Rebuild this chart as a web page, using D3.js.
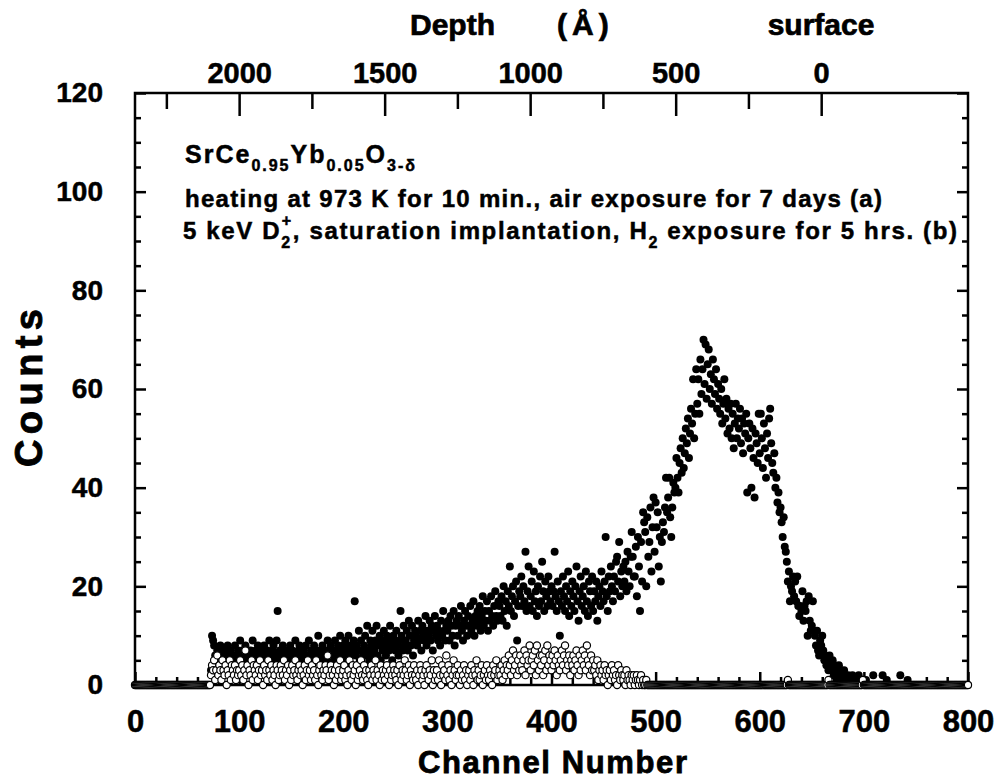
<!DOCTYPE html>
<html>
<head>
<meta charset="utf-8">
<script src="https://cdn.jsdelivr.net/npm/d3@7"></script>
<style>
  html, body { margin: 0; padding: 0; background: #fff; }
  svg { display: block; }
  text { font-family: "Liberation Sans", Arial, Helvetica, sans-serif; font-weight: bold; fill: #000;
         stroke: #000; stroke-width: 0.5px; }
</style>
</head>
<body>
<svg id="chart" width="994" height="781"></svg>
<script>
// ---- Counts per channel, series (a): heating 973 K, air exposure (filled) ----
const countsA_000 = [
  0,0,0,0,0,0,0,0,0,0, 0,0,0,0,0,0,0,0,0,0, 0,0,0,0,0,0,0,0,0,0,
  0,0,0,0,0,0,0,0,0,0, 0,0,0,0,0,0,0,0,0,0, 0,0,0,0,0,0,0,0,0,0,
  0,0,0,0,0,0,0,0,0,0, 0,0,0,3,10,9,8,6,5,7, 4,6,8,7,5,6,4,7,5,8,
  6,3,7,5,6,4,8,6,5,7
];
const countsA_100 = [
  6,9,5,7,4,6,8,5,7,6, 4,7,5,9,6,3,7,5,8,6, 5,7,4,6,8,5,6,7,3,9,
  6,5,7,8,4,6,9,15,5,7, 6,4,8,5,7,6,3,7,5,8, 6,7,4,5,9,6,5,7,8,4,
  6,5,7,3,8,6,5,9,6,7, 4,6,8,5,7,6,10,5,7,6, 8,5,6,4,7,9,6,5,8,7,
  5,6,9,7,4,8,6,10,5,7
];
const countsA_200 = [
  8,6,9,5,7,10,6,8,4,7, 9,17,6,8,7,11,5,9,7,6, 8,10,6,12,7,5,9,8,11,6,
  7,9,12,6,8,10,5,9,7,11, 8,6,10,9,7,12,8,5,10,9, 7,11,8,6,9,15,10,7,12,8,
  9,11,7,13,10,8,12,6,9,11, 10,8,13,9,11,7,12,10,9,14, 8,11,10,13,9,12,7,11,14,10,
  12,9,11,8,13,10,15,11,9,12
];
const countsA_300 = [
  11,13,9,14,12,10,15,8,12,13, 10,14,12,16,11,9,13,15,12,10, 14,12,16,11,13,17,10,14,12,15,
  13,16,11,14,18,12,15,13,17,11, 15,13,18,14,12,16,19,14,13,17, 16,14,18,13,20,15,17,12,19,16,
  24,15,18,20,14,17,21,9,16,19, 18,22,16,20,17,27,15,19,24,16, 18,21,15,23,17,19,14,20,16,22,
  17,25,19,15,21,18,16,22,19,17
];
const countsA_400 = [
  20,16,19,27,18,15,21,17,10,19, 16,22,18,15,20,17,23,14,19,16, 21,18,15,20,24,17,13,19,22,16,
  18,20,15,23,17,14,21,19,16,22, 15,19,17,21,13,18,20,16,23,19, 17,21,30,18,15,22,19,24,20,17,
  22,19,25,26,21,29,18,23,20,24, 21,25,19,27,23,20,26,31,26,22, 22,28,18,30,24,15,29,21,35,33,
  31,20,34,26,29,36,23,32,38,27
];
const countsA_500 = [
  37,32,35,24,30,21,29,33,31,36, 42,35,38,42,34,30,36,41,39,40, 46,42,39,45,48,43,50,44,47,52,
  49,54,46,51,56,53,62,50,55,64, 57,62,55,66,59,64,70,61,69,58, 65,68,60,63,57,66,62,59,64,56,
  61,58,55,60,53,57,62,54,58,51, 56,52,57,50,55,48,53,57,50,54, 52,56,49,54,47,53,51,55,39,50,
  53,48,40,52,46,38,51,49,45,55
];
const countsA_600 = [
  47,55,50,44,53,48,42,51,46,54, 56,49,45,43,47,40,42,37,39,35, 36,33,30,34,28,27,25,21,23,17,
  20,19,22,18,21,17,22,16,14,16, 15,19,13,16,15,17,10,18,13,11, 12,17,11,10,8,11,7,6,9,8,
  10,7,5,6,4,5,3,6,4,3, 5,2,4,3,1,2,4,1,3,2, 1,3,2,0,1,2,0,1,0,2,
  1,0,0,1,0,2,0,0,1,0
];
const countsA_700 = [
  0,0,1,0,0,0,0,0,0,2, 0,0,0,0,0,0,0,0,2,0, 0,0,1,0,0,0,0,0,0,0,
  0,0,0,0,0,2,0,0,0,0, 0,0,1,0,0,0,0,0,0,0, 0,0,0,0,0,0,0,0,0,0,
  0,0,0,0,0,0,0,0,0,0, 0,0,0,0,0,0,0,0,0,0, 0,0,0,0,0,0,0,0,0,0,
  0,0,0,0,0,0,0,0,0,0, 0
];

// ---- Counts per channel, series (b): 5 keV D2+ implantation, H2 exposure (open) ----
const countsB_000 = [
  0,0,0,0,0,0,0,0,0,0, 0,0,0,0,0,0,0,0,0,0, 0,0,0,0,0,0,0,0,0,0,
  0,0,0,0,0,0,0,0,0,0, 0,0,0,0,0,0,0,0,0,0, 0,0,0,0,0,0,0,0,0,0,
  0,0,0,0,0,0,0,0,0,0, 0,0,0,2,4,3,5,1,3,6, 2,4,3,1,5,3,2,4,0,3,
  2,5,1,4,3,2,4,1,3,2
];
const countsB_100 = [
  3,5,2,4,1,3,7,2,4,0, 3,2,5,1,4,3,2,4,1,3, 5,2,3,0,4,2,3,1,5,3,
  2,4,1,3,2,0,4,3,1,2, 4,3,2,5,1,3,2,4,0,3, 1,4,2,3,5,2,1,3,4,2,
  3,0,2,4,1,3,5,2,3,1, 4,2,3,1,5,2,0,3,4,2, 1,3,2,4,3,6,1,2,4,3,
  2,0,3,1,4,2,3,5,1,2
];
const countsB_200 = [
  3,4,1,2,0,3,5,2,1,4, 2,3,0,4,1,2,3,5,2,1, 4,2,3,1,0,3,2,4,1,3,
  2,5,1,3,2,0,4,1,3,2, 1,3,4,2,0,3,1,2,4,3, 2,1,3,0,4,2,1,3,2,5,
  3,1,2,4,0,3,2,1,4,2, 1,3,0,2,4,3,1,2,0,3, 4,2,1,3,2,5,0,3,1,2,
  3,1,5,2,0,4,2,3,1,6
];
const countsB_300 = [
  2,4,1,3,0,2,5,3,1,2, 4,2,0,3,1,2,4,1,3,0, 2,3,1,4,2,0,3,2,5,1,
  3,1,2,4,0,2,3,1,4,2, 1,3,2,0,4,2,3,5,1,2, 3,2,4,1,3,5,2,4,3,6,
  4,2,5,7,3,4,6,2,5,3, 6,4,3,5,7,2,6,4,5,8, 3,5,6,4,7,2,8,5,3,6,
  4,6,2,5,7,3,8,4,6,5
];
const countsB_400 = [
  3,6,4,7,5,2,6,4,3,5, 7,4,6,8,3,5,4,6,2,5, 4,6,3,5,7,4,2,6,3,5,
  7,4,6,3,8,5,4,2,6,3, 5,3,4,2,5,1,3,4,2,3, 1,4,2,3,0,2,3,1,4,2,
  3,1,2,0,4,2,1,3,2,1, 2,0,3,1,2,1,0,2,1,2, 0,1,2,1,0,1,2,0,1,0,
  0,1,0,0,0,0,0,0,0,0
];
const countsB_500 = [
  0,0,0,0,0,0,0,0,0,0, 0,0,0,0,0,0,0,0,0,0, 0,0,0,0,0,0,0,0,0,0,
  0,0,0,0,0,0,0,0,0,0, 0,0,0,0,0,0,0,0,0,0, 0,0,0,0,0,0,0,0,0,0,
  0,0,0,0,0,0,0,0,0,0, 0,0,0,0,0,0,0,0,0,0, 0,0,0,0,0,0,0,0,0,0,
  0,0,0,0,0,0,0,0,0,0
];
const countsB_600 = [
  0,0,0,0,0,0,0,0,0,0, 0,0,0,0,0,0,0,0,0,0, 0,0,0,0,0,0,0,1,0,0,
  0,0,0,0,0,0,0,0,0,0, 0,0,0,0,0,0,0,0,0,0, 0,0,0,0,0,0,0,0,0,0,
  0,0,0,0,0,0,1,0,0,0, 0,0,0,0,0,0,0,0,0,0, 0,0,0,0,0,0,0,0,0,0,
  0,0,0,0,0,0,0,0,0,1
];
const countsB_700 = [
  0,0,0,0,0,0,0,0,0,0, 0,0,0,0,0,0,0,0,0,0, 0,0,0,0,0,0,0,0,0,0,
  0,0,0,0,0,0,0,0,0,0, 0,0,0,0,0,0,0,0,0,0, 0,0,0,0,0,0,0,0,0,0,
  0,0,0,0,0,0,0,0,0,0, 0,0,0,0,0,0,0,0,0,0, 0,0,0,0,0,0,0,0,0,0,
  0,0,0,0,0,0,0,0,0,0, 0
];

// ---- Axis definitions ----
const channelTicks = [0, 100, 200, 300, 400, 500, 600, 700, 800];
const channelMinorTicks = [20, 40, 60, 80, 120, 140, 160, 180, 220, 240, 260, 280, 320, 340, 360, 380,
  420, 440, 460, 480, 520, 540, 560, 580, 620, 640, 660, 680, 720, 740, 760, 780];
const countTicks = [0, 20, 40, 60, 80, 100, 120];
const countMinorTicks = [5, 10, 15, 25, 30, 35, 45, 50, 55, 65, 70, 75, 85, 90, 95, 105, 110, 115];
const depthTicks = [2000, 1500, 1000, 500, 0];
const depthMinorTicks = [2250, 1750, 1250, 750, 250];
// Depth calibration: channel at which depth equals the given value (Å)
const depthRefDepth = [0, 2000];
const depthRefChannel = [659, 100];

const seriesA = [].concat(countsA_000, countsA_100, countsA_200, countsA_300,
                          countsA_400, countsA_500, countsA_600, countsA_700);
const seriesB = [].concat(countsB_000, countsB_100, countsB_200, countsB_300,
                          countsB_400, countsB_500, countsB_600, countsB_700);

const svg = d3.select("#chart");
svg.append("rect").attr("width", 994).attr("height", 781).attr("fill", "#fff");

const plot = { left: 135, right: 968, top: 93, bottom: 685 };
const x = d3.scaleLinear().domain([0, 800]).range([plot.left, plot.right]);
const y = d3.scaleLinear().domain([0, 120]).range([plot.bottom, plot.top]);
const depth = d3.scaleLinear().domain(depthRefDepth).range(depthRefChannel.map(x));

const tickW = 2.5;
function styleAxis(g, fontSize) {
  g.select(".domain").remove();
  g.selectAll(".tick line").attr("stroke", "#000").attr("stroke-width", tickW);
  g.selectAll(".tick text")
    .attr("fill", "#000")
    .style("font-family", '"Liberation Sans", Arial, Helvetica, sans-serif')
    .style("font-weight", "bold")
    .style("font-size", fontSize + "px");
}

// bottom: channel number
svg.append("g").attr("transform", `translate(0,${plot.bottom})`)
  .call(d3.axisBottom(x).tickValues(channelTicks).tickSize(-13).tickPadding(25).tickFormat(d3.format("d")))
  .call(g => styleAxis(g, 31));
svg.append("g").attr("transform", `translate(0,${plot.bottom})`)
  .call(d3.axisBottom(x).tickValues(channelMinorTicks).tickSize(-8).tickFormat(""))
  .call(g => styleAxis(g, 10));

// left: counts
svg.append("g").attr("transform", `translate(${plot.left},0)`)
  .call(d3.axisLeft(y).tickValues(countTicks).tickSize(-11).tickPadding(32).tickFormat(d3.format("d")))
  .call(g => styleAxis(g, 28));
svg.append("g").attr("transform", `translate(${plot.left},0)`)
  .call(d3.axisLeft(y).tickValues(countMinorTicks).tickSize(-6).tickFormat(""))
  .call(g => styleAxis(g, 10));

// right: counts (ticks only)
svg.append("g").attr("transform", `translate(${plot.right},0)`)
  .call(d3.axisRight(y).tickValues(countTicks).tickSize(-11).tickFormat(""))
  .call(g => styleAxis(g, 10));
svg.append("g").attr("transform", `translate(${plot.right},0)`)
  .call(d3.axisRight(y).tickValues(countMinorTicks).tickSize(-6).tickFormat(""))
  .call(g => styleAxis(g, 10));

// top: depth in Å
svg.append("g").attr("transform", `translate(0,${plot.top})`)
  .call(d3.axisTop(depth).tickValues(depthTicks).tickSize(-23).tickPadding(10).tickFormat(d3.format("d")))
  .call(g => styleAxis(g, 29));
svg.append("g").attr("transform", `translate(0,${plot.top})`)
  .call(d3.axisTop(depth).tickValues(depthMinorTicks).tickSize(-16).tickFormat(""))
  .call(g => styleAxis(g, 10));

// frame
svg.append("rect")
  .attr("x", plot.left).attr("y", plot.top)
  .attr("width", plot.right - plot.left).attr("height", plot.bottom - plot.top)
  .attr("fill", "none").attr("stroke", "#000").attr("stroke-width", 2.5);

// markers: (a) filled, then (b) open on top
svg.append("g").selectAll("circle")
  .data(seriesA.map((v, i) => [i, v]))
  .join("circle")
  .attr("cx", d => x(d[0])).attr("cy", d => y(d[1])).attr("r", 4)
  .attr("fill", "#000");
svg.append("g").selectAll("circle")
  .data(seriesB.map((v, i) => [i, v]))
  .join("circle")
  .attr("cx", d => x(d[0])).attr("cy", d => y(d[1])).attr("r", 3.6)
  .attr("fill", "#fff").attr("stroke", "#000").attr("stroke-width", 1.2);

// axis titles
svg.append("text").attr("x", 418).attr("y", 773)
  .attr("textLength", 269).style("font-size", "31px").style("stroke-width", "0.8px").text("Channel Number");
svg.append("text").attr("transform", "translate(42,388) rotate(-90)")
  .attr("text-anchor", "middle").attr("textLength", 158)
  .style("font-size", "38px").style("stroke-width", "0.9px").text("Counts");
svg.append("text").attr("x", 410).attr("y", 35).style("font-size", "30px").style("stroke-width", "0.7px").text("Depth");
svg.append("text").attr("x", 557).attr("y", 35).style("font-size", "30px").style("stroke-width", "0.7px")
  .style("letter-spacing", "5px").text("(Å)");
svg.append("text").attr("x", 821).attr("y", 35).attr("text-anchor", "middle")
  .style("font-size", "30px").style("stroke-width", "0.7px").text("surface");

// sample annotation
const t1 = svg.append("text").attr("x", 185).attr("y", 163)
  .style("font-size", "25px").style("letter-spacing", "2px");
t1.append("tspan").text("SrCe");
t1.append("tspan").attr("dy", 8).style("font-size", "16px").text("0.95");
t1.append("tspan").attr("dy", -8).text("Yb");
t1.append("tspan").attr("dy", 8).style("font-size", "16px").text("0.05");
t1.append("tspan").attr("dy", -8).text("O");
t1.append("tspan").attr("dy", 8).style("font-size", "16px").text("3-δ");

svg.append("text").attr("x", 185).attr("y", 207)
  .style("font-size", "24px").style("letter-spacing", "1.3px")
  .text("heating at 973 K for 10 min., air exposure for 7 days (a)");

const t3 = svg.append("text").attr("x", 183).attr("y", 239)
  .style("font-size", "24px").style("letter-spacing", "1.65px");
t3.append("tspan").text("5 keV D");
t3.append("tspan").attr("dy", 9).style("font-size", "16px").text("2");
t3.append("tspan").attr("dx", -10).attr("dy", -22).style("font-size", "16px").text("+");
t3.append("tspan").attr("dy", 13).text(", saturation implantation, H");
t3.append("tspan").attr("dy", 9).style("font-size", "16px").text("2");
t3.append("tspan").attr("dy", -9).text(" exposure for 5 hrs. (b)");
</script>
</body>
</html>
